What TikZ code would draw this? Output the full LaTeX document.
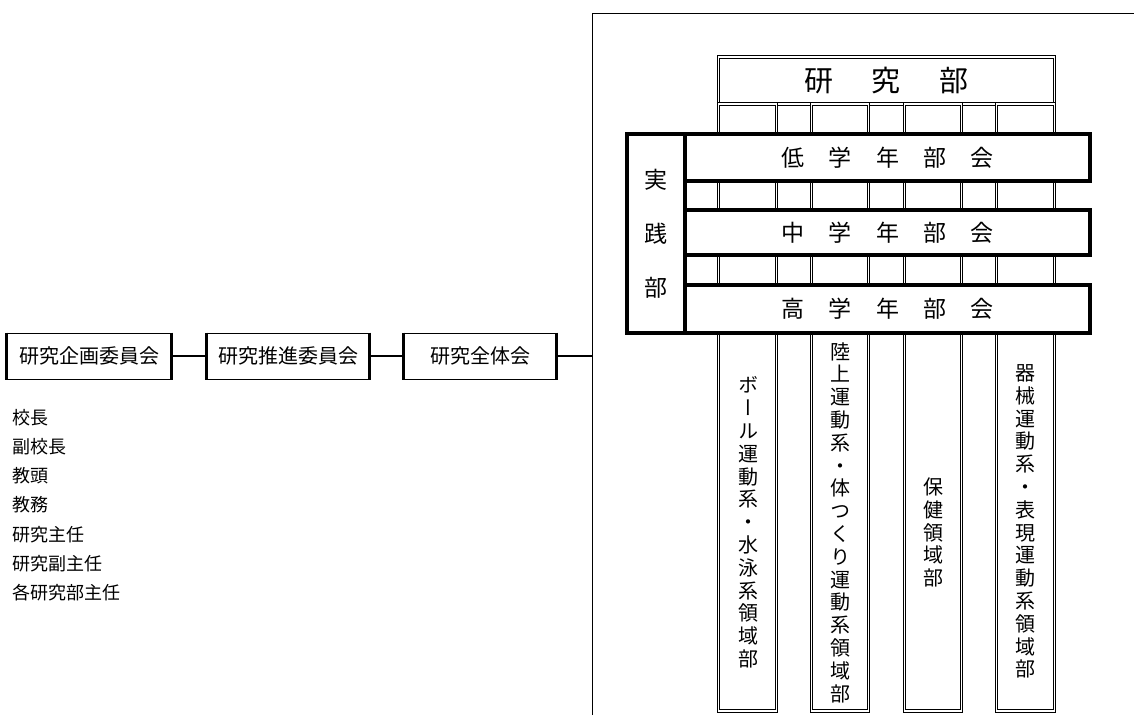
\documentclass[tikz,border=0pt]{standalone}
\usepackage{fontspec}
\setmainfont{Noto Sans CJK JP}
\newfontfamily\vjp[RawFeature=+vert]{Noto Sans CJK JP}
\begin{document}
\begin{tikzpicture}[x=1pt,y=-1pt,
  lbox/.style={draw, line width=1pt, minimum height=46pt, inner sep=0pt, font=\fontsize{20}{24}\selectfont},
  side/.style={line width=2.4pt},
  conn/.style={line width=1.1pt},
  dbl/.style={draw=black, line width=0.7pt, double=white, double distance=1.8pt, inner sep=0pt},
  thickbox/.style={draw, line width=4pt, fill=white, inner sep=0pt},
  vtext/.style={inner sep=0pt, align=center, font=\vjp\fontsize{20}{22.8}\selectfont},
  bartext/.style={font=\fontsize{23}{24}\selectfont}
]
\useasboundingbox (0,0) rectangle (1134,715);

% outer frame
\coordinate (fbot) at (592,715);
\coordinate (ftl) at (592,13);
\coordinate (fright) at (1134,13);
\draw[line width=1pt] (fbot) -- (ftl) -- (fright);
\coordinate (fj) at (592,356);

% left chain
\node[lbox, minimum width=164pt] (b1) at (89,356) {研究企画委員会};
\node[lbox, minimum width=162pt] (b2) at (288,356) {研究推進委員会};
\node[lbox, minimum width=152pt] (b3) at (480,356) {研究全体会};
\foreach \b in {b1,b2,b3}{
  \draw[side] (\b.north west) -- (\b.south west);
  \draw[side] (\b.north east) -- (\b.south east);
}
\draw[conn] (b1.east) -- (b2.west);
\draw[conn] (b2.east) -- (b3.west);
\draw[conn] (b3.east) -- (fj);

\node[anchor=north west, inner sep=0pt, align=left, font=\fontsize{18}{29.2}\selectfont] (members) at (12,409)
  {校長\\副校長\\教頭\\教務\\研究主任\\研究副主任\\各研究部主任};

% research department
\node[dbl, minimum width=336pt, minimum height=47pt, font=\fontsize{29}{30}\selectfont] (hdr) at (886.5,80.5)
  {研\hspace{39pt}究\hspace{39pt}部};
\node[dbl, minimum width=58pt, minimum height=607pt] (c1) at (747.5,407.5) {};
\node[dbl, minimum width=57pt, minimum height=607pt] (c2) at (840,407.5) {};
\node[dbl, minimum width=57pt, minimum height=607pt] (c3) at (933,407.5) {};
\node[dbl, minimum width=58pt, minimum height=607pt] (c4) at (1025.5,407.5) {};

% practice department
\node[thickbox, minimum width=405pt, minimum height=47pt, bartext] (low) at (887.5,157.5)
  {低\hspace{24.5pt}学\hspace{24.5pt}年\hspace{24.5pt}部\hspace{24.5pt}会};
\node[thickbox, minimum width=405pt, minimum height=45pt, bartext] (mid) at (887.5,232.5)
  {中\hspace{24.5pt}学\hspace{24.5pt}年\hspace{24.5pt}部\hspace{24.5pt}会};
\node[thickbox, minimum width=405pt, minimum height=48pt, bartext] (high) at (887.5,309)
  {高\hspace{24.5pt}学\hspace{24.5pt}年\hspace{24.5pt}部\hspace{24.5pt}会};
\node[thickbox, minimum width=58pt, minimum height=199pt, align=center, font=\fontsize{23}{54}\selectfont] (jp) at (656,233.5)
  {実\\践\\部};

% column labels
\node[vtext] (c1t) at (748,522.5) {ボ\\ー\\ル\\運\\動\\系\\・\\水\\泳\\系\\領\\域\\部};
\node[vtext] (c2t) at (840,522.5) {陸\\上\\運\\動\\系\\・\\体\\つ\\く\\り\\運\\動\\系\\領\\域\\部};
\node[vtext] (c3t) at (933,532.5) {保\\健\\領\\域\\部};
\node[vtext] (c4t) at (1025,521.5) {器\\械\\運\\動\\系\\・\\表\\現\\運\\動\\系\\領\\域\\部};
\end{tikzpicture}
\end{document}
